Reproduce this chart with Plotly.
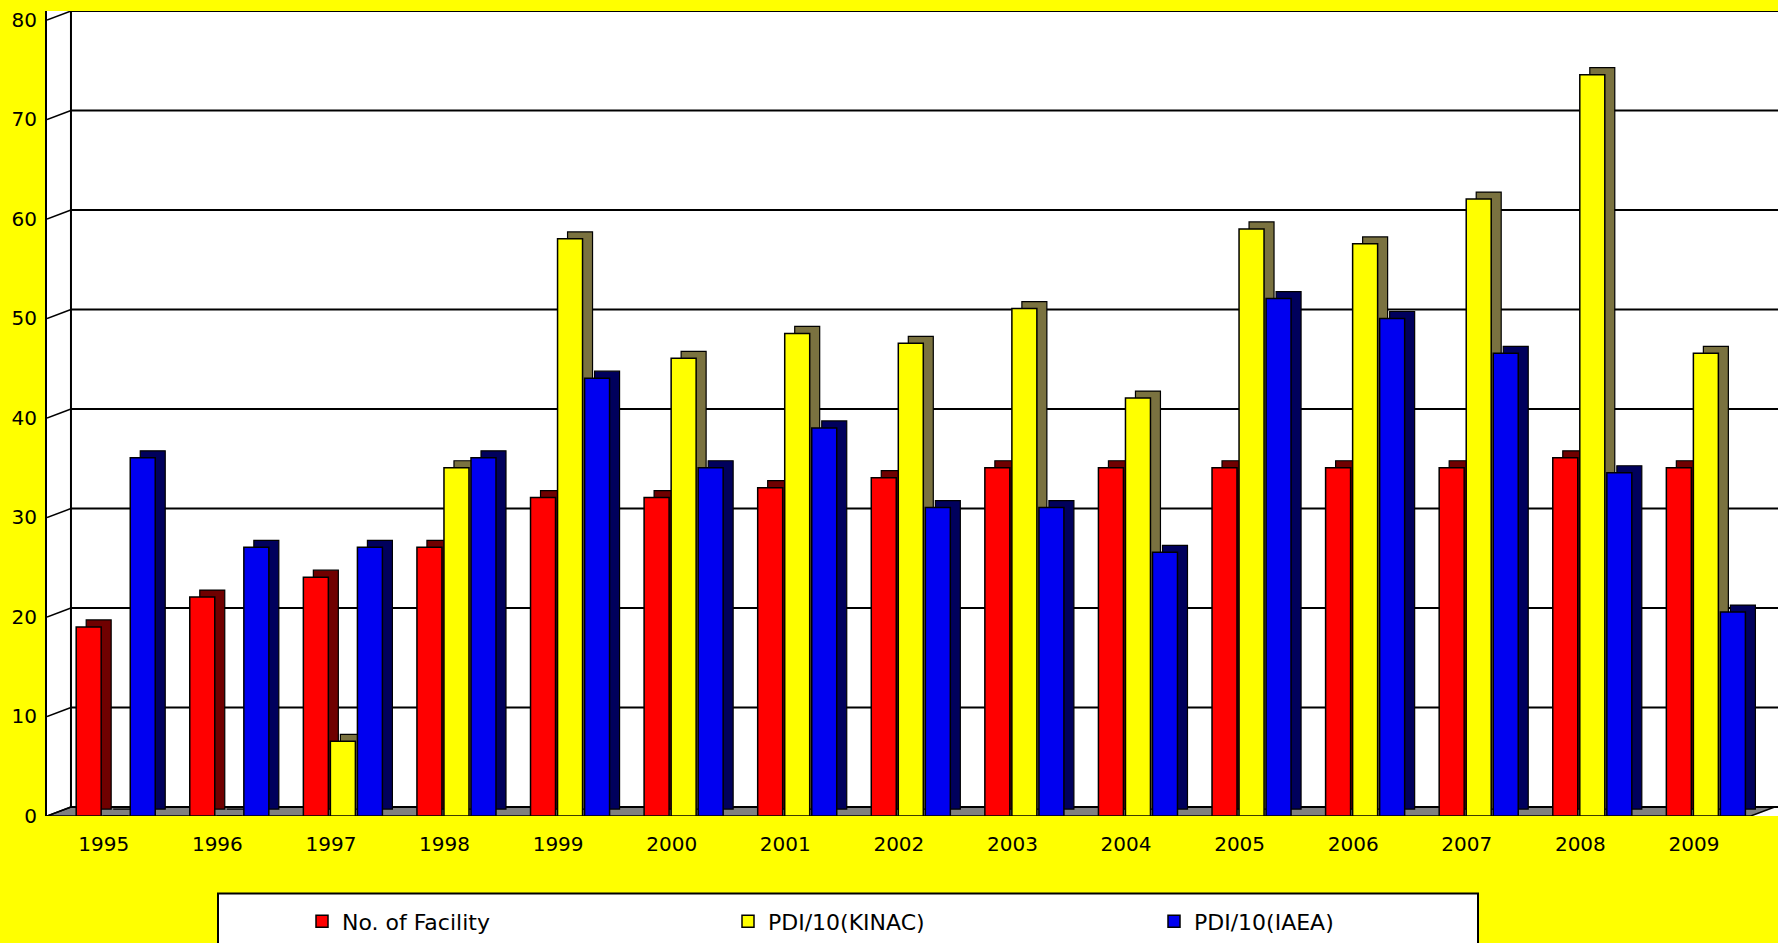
import plotly.graph_objects as go

# ---------------- data ----------------
years = ["1995", "1996", "1997", "1998", "1999", "2000", "2001", "2002",
         "2003", "2004", "2005", "2006", "2007", "2008", "2009"]
facility = [19, 22, 24, 27, 32, 32, 33, 34, 35, 35, 35, 35, 35, 36, 35]
pdi_kinac = [0, 0, 7.5, 35, 58, 46, 48.5, 47.5, 51, 42, 59, 57.5, 62, 74.5, 46.5]
pdi_iaea = [36, 27, 27, 36, 44, 35, 39, 31, 31, 26.5, 52, 50, 46.5, 34.5, 20.5]
y_ticks = [0, 10, 20, 30, 40, 50, 60, 70, 80]
series_names = ["No. of Facility", "PDI/10(KINAC)", "PDI/10(IAEA)"]

# ---------------- styling ----------------
W, H = 1778, 943
ML, MT, MB = 47, 11, 123
front_colors = ["#FF0000", "#FFFF00", "#0000F0"]
side_colors = ["#700000", "#7A7240", "#00005C"]
offsets = [-0.243, -0.005, 0.233]
bar_w = 0.22
depth_dx = 0.088          # bar depth (x units)
wall_dx = 0.211           # floor depth (x units)
X_RANGE = [-0.5, 14.74]
FONT = "DejaVu Sans, Arial, sans-serif"

idx = list(range(len(years)))
values = [facility, pdi_kinac, pdi_iaea]

fig = go.Figure()

# back faces (side + top) first
for name, vals, sc, off in zip(series_names, values, side_colors, offsets):
    fig.add_trace(go.Bar(
        x=idx, y=vals, width=bar_w, offset=off + depth_dx,
        marker=dict(color=sc, line=dict(color="black", width=1.2)),
        yaxis="y2", showlegend=False, hoverinfo="skip", name=name))

# front faces
for name, vals, fc, off in zip(series_names, values, front_colors, offsets):
    fig.add_trace(go.Bar(
        x=idx, y=vals, width=bar_w, offset=off,
        marker=dict(color=fc, line=dict(color="black", width=1.5)),
        yaxis="y3", name=name))

shapes = []
# floor
shapes.append(dict(
    type="path", xref="x", yref="y", layer="below",
    path=f"M {X_RANGE[0]},-0.9 L {len(years) - 0.5},-0.9 L {len(years) - 0.5 + wall_dx},0 "
         f"L {X_RANGE[0] + wall_dx},0 Z",
    fillcolor="#808080", opacity=1, line=dict(color="black", width=1.5)))
# back-wall gridlines and left-wall connectors
for v in y_ticks:
    shapes.append(dict(type="line", xref="x", yref="y", layer="below",
                       x0=X_RANGE[0] + wall_dx, x1=X_RANGE[1] + 1, y0=v, y1=v,
                       line=dict(color="black", width=2)))
    shapes.append(dict(type="line", xref="x", yref="y", layer="below",
                       x0=X_RANGE[0], x1=X_RANGE[0] + wall_dx, y0=v - 0.9, y1=v,
                       line=dict(color="black", width=1.5)))
# back wall left edge
shapes.append(dict(type="line", xref="x", yref="y", layer="below",
                   x0=X_RANGE[0] + wall_dx, x1=X_RANGE[0] + wall_dx, y0=0, y1=80,
                   line=dict(color="black", width=2)))

# legend box
plot_w = W - ML
plot_h = H - MT - MB
def px_x(p):
    return (p - ML) / plot_w
def px_y(p):
    return (H - MB - p) / plot_h
shapes.append(dict(type="rect", xref="paper", yref="paper", layer="above",
                   x0=px_x(218), x1=px_x(1478), y0=px_y(898), y1=px_y(960),
                   fillcolor="white", line=dict(color="black", width=2)))

fig.update_layout(
    width=W, height=H,
    margin=dict(l=ML, r=0, t=MT, b=MB, pad=0),
    paper_bgcolor="#FFFF00",
    plot_bgcolor="white",
    barmode="overlay",
    font=dict(family=FONT, color="black", size=20),
    shapes=shapes,
    xaxis=dict(range=X_RANGE, tickvals=idx, ticktext=years, showgrid=False,
               zeroline=False, showline=False, ticks="", tickfont=dict(size=20),
               ticklabelstandoff=14),
    yaxis=dict(range=[-0.9, 80], visible=False),
    yaxis2=dict(range=[-0.7, 80.2], overlaying="y", visible=False),
    yaxis3=dict(range=[0, 80.9], overlaying="y", side="left", anchor="x",
                tickvals=y_ticks, showgrid=False, zeroline=False, showline=True,
                linecolor="black", linewidth=2, ticks="", tickfont=dict(size=20),
                ticklabelstandoff=4),
    legend=dict(orientation="h", x=px_x(302), y=px_y(926), xanchor="left",
                yanchor="middle", bgcolor="rgba(0,0,0,0)", borderwidth=0,
                entrywidth=381, entrywidthmode="pixels",
                font=dict(size=22, color="black")),
    showlegend=True,
)

fig.write_html("out.html")
